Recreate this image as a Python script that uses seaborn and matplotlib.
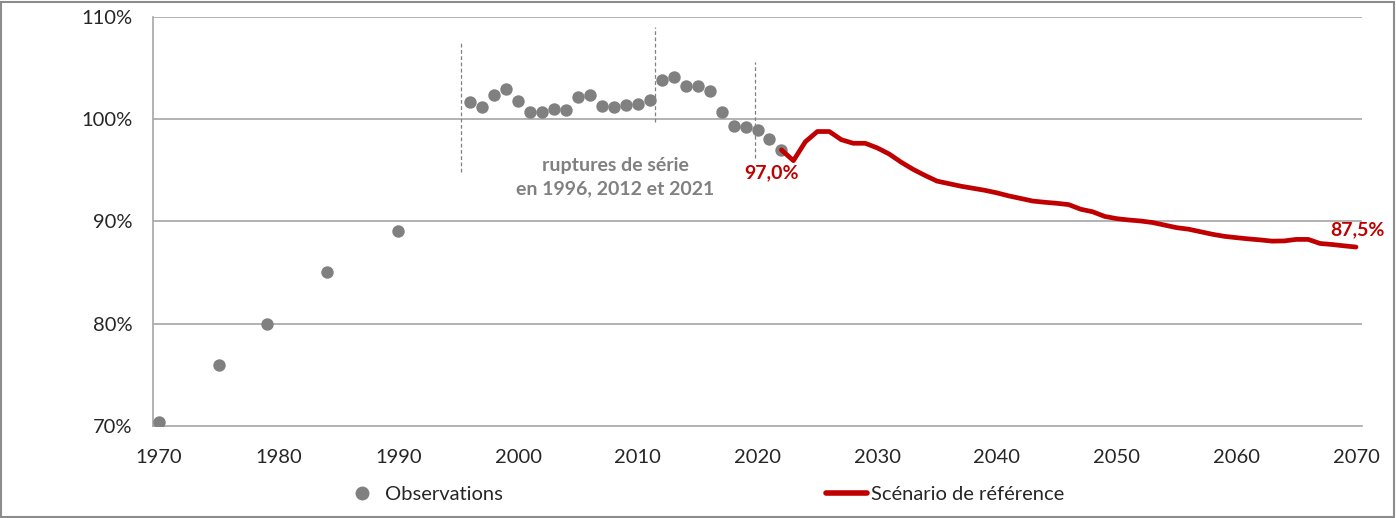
import matplotlib
matplotlib.use("Agg")
import matplotlib.pyplot as plt
import matplotlib.patches as mpatches
from matplotlib.lines import Line2D
from matplotlib.ticker import FixedLocator, FuncFormatter
import seaborn as sns
import pandas as pd

# ---- data ----
obs_years = [1970, 1975, 1979, 1984, 1990,
             1996, 1997, 1998, 1999, 2000, 2001, 2002, 2003, 2004, 2005,
             2006, 2007, 2008, 2009, 2010, 2011, 2012, 2013, 2014, 2015,
             2016, 2017, 2018, 2019, 2020, 2021, 2022]
obs_values = [70.4, 76.0, 80.0, 85.1, 89.1,
              101.7, 101.15, 102.4, 103.0, 101.8, 100.7, 100.7, 101.05, 100.95, 102.15,
              102.4, 101.3, 101.15, 101.4, 101.5, 101.9, 103.8, 104.1, 103.25, 103.25,
              102.8, 100.75, 99.35, 99.25, 98.95, 98.1, 97.0]

scen_years = list(range(2022, 2071))
scen_values = [97.0, 95.95, 97.8, 98.8, 98.8, 98.0, 97.65, 97.65, 97.2, 96.6,
               95.8, 95.1, 94.5, 93.95, 93.7, 93.45, 93.25, 93.05, 92.8, 92.5,
               92.25, 92.0, 91.88, 91.78, 91.65, 91.2, 90.95, 90.5, 90.28, 90.15,
               90.05, 89.9, 89.65, 89.4, 89.25, 89.0, 88.75, 88.55, 88.42, 88.3,
               88.2, 88.08, 88.1, 88.25, 88.25, 87.85, 87.75, 87.62, 87.5]

break_pos = [1995.2, 2011.4, 2019.8]
break_low = [94.8, 99.7, 96.2]
break_high = [107.6, 109.0, 105.6]

y_ticks = [70, 80, 90, 100, 110]
x_label_years = list(range(1970, 2071, 10))
x_tick_marks = [1969.5 + 5 * k for k in range(21)]

obs_label = "Observations"
scen_label = "Scénario de référence"
note_text = "ruptures de série\nen 1996, 2012 et 2021"
start_label = "97,0%"
end_label = "87,5%"

# ---- style ----
sns.set_style("white")
plt.rcParams["font.family"] = ["Lato", "DejaVu Sans"]

GRAY = "#808080"
RED = "#C00000"
GRID = "#A6A6A6"
TXT = "#262626"
FS = 14.5

W, H = 1396, 518
fig = plt.figure(figsize=(W / 100, H / 100), dpi=100)
ax = fig.add_axes([153 / W, 1 - 426 / H, (1362 - 153) / W, (426 - 17) / H])

df_obs = pd.DataFrame({"year": obs_years, "value": obs_values})
df_scen = pd.DataFrame({"year": scen_years, "value": scen_values})

for y in y_ticks[1:]:
    ax.axhline(y, color=GRID, lw=1.2, zorder=0)

ax.vlines(break_pos, break_low, break_high, colors=GRAY, linestyles=(0, (3, 2)), lw=0.9, zorder=1)

sns.scatterplot(data=df_obs, x="year", y="value", ax=ax, s=80, color=GRAY,
                edgecolor=GRAY, linewidth=0, zorder=3, legend=False)
sns.lineplot(data=df_scen, x="year", y="value", ax=ax, color=RED, lw=3.4,
             zorder=4, legend=False)

ax.set_xlim(1969.5, 2070.5)
ax.set_ylim(70, 110)
ax.set_xlabel("")
ax.set_ylabel("")

ax.xaxis.set_major_locator(FixedLocator(x_label_years))
ax.xaxis.set_minor_locator(FixedLocator(x_tick_marks))
ax.set_xticklabels([str(v) for v in x_label_years])
ax.yaxis.set_major_locator(FixedLocator(y_ticks))
ax.yaxis.set_major_formatter(FuncFormatter(lambda v, p: f"{v:.0f}%"))

ax.tick_params(axis="x", which="major", length=0, pad=16.5, labelsize=FS, labelcolor=TXT)
ax.tick_params(axis="x", which="minor", length=7, width=1, color=GRID, direction="out")
ax.tick_params(axis="y", which="major", length=6.5, width=1, color=GRID, direction="out",
               pad=8.5, labelsize=FS, labelcolor=TXT)
ax.tick_params(axis="y", which="minor", length=0)
for lab in ax.get_xticklabels():
    lab.set_ha("center")

for s in ["top", "right"]:
    ax.spines[s].set_visible(False)
for s in ["left", "bottom"]:
    ax.spines[s].set_color(GRID)
    ax.spines[s].set_linewidth(1.2)

ax.text(2008.1, 94.35, note_text, ha="center", va="center", fontsize=14,
        fontweight="bold", color=GRAY, linespacing=1.4)
ax.text(2021.2, 94.8, start_label, ha="center", va="center", fontsize=14,
        fontweight="bold", color=RED)
ax.text(2070.1, 89.2, end_label, ha="center", va="center", fontsize=14,
        fontweight="bold", color=RED)

# legends
h1 = Line2D([], [], marker="o", ls="none", color=GRAY, markersize=9)
leg1 = fig.legend([h1], [obs_label], loc="center left",
                  bbox_to_anchor=(353 / W, 1 - 494 / H), frameon=False,
                  handlelength=0.85, handletextpad=0.75, borderpad=0,
                  borderaxespad=0, fontsize=FS)
for t in leg1.get_texts():
    t.set_color(TXT)
h2 = Line2D([], [], color=RED, lw=4)
leg2 = fig.legend([h2], [scen_label], loc="center left",
                  bbox_to_anchor=(826 / W, 1 - 494 / H), frameon=False,
                  handlelength=2.05, handletextpad=0.2, borderpad=0,
                  borderaxespad=0, fontsize=FS)
for t in leg2.get_texts():
    t.set_color(TXT)

# outer frame
fig.patches.append(mpatches.Rectangle((1 / W, 1 / H), (W - 3) / W, (H - 3) / H,
                                      transform=fig.transFigure, fill=False,
                                      edgecolor="#8C8C8C", lw=1.5))

fig.savefig("out.png", dpi=100)
